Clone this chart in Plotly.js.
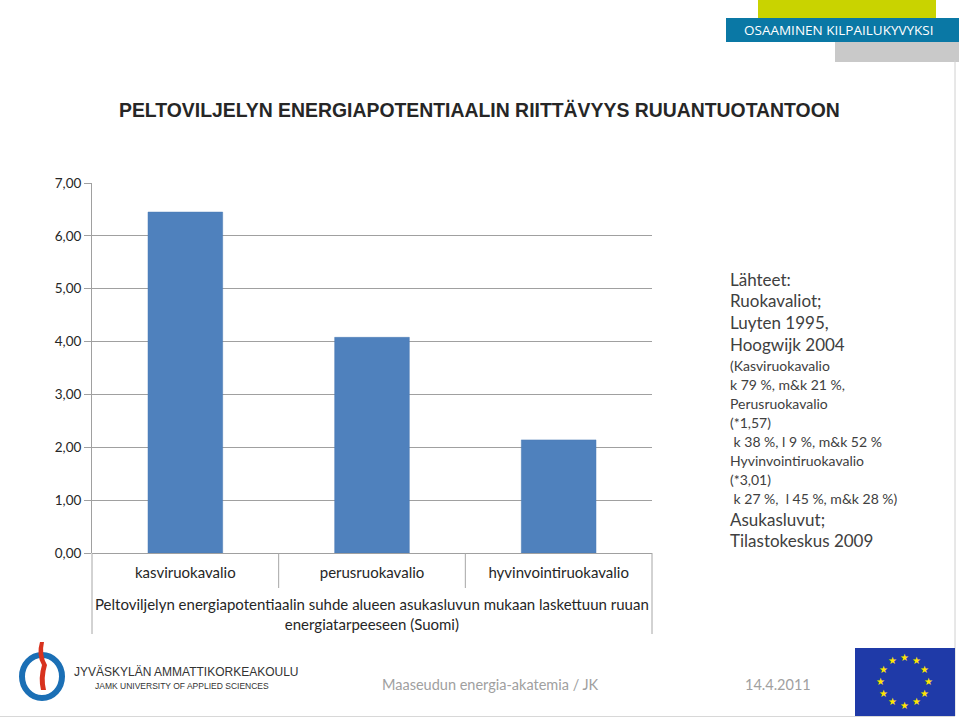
<!DOCTYPE html>
<html><head><meta charset="utf-8">
<script src="https://cdn.plot.ly/plotly-3.0.1.min.js"></script>
<style>html,body{margin:0;padding:0;background:#fff}#chart{width:959px;height:718px}</style>
</head><body><div id="chart"></div>
<script>
// ---- data ----
const categories = ['kasviruokavalio', 'perusruokavalio', 'hyvinvointiruokavalio'];
const values = [6.45, 4.08, 2.14];
const yTicks = [0, 1, 2, 3, 4, 5, 6, 7];
const chartTitle = 'PELTOVILJELYN ENERGIAPOTENTIAALIN RIITTÄVYYS RUUANTUOTANTOON';
const groupLabel = 'Peltoviljelyn energiapotentiaalin suhde alueen asukasluvun mukaan laskettuun ruuan<br>energiatarpeeseen (Suomi)';
const sourceLines = [
  ['Lähteet:', 'big'], ['Ruokavaliot;', 'big'], ['Luyten 1995,', 'big'], ['Hoogwijk 2004', 'big'],
  ['(Kasviruokavalio', 'small'], ['k 79 %, m&k 21 %,', 'small'], ['Perusruokavalio', 'small'],
  ['(*1,57)', 'small'], [' k 38 %, l 9 %, m&k 52 %', 'small'], ['Hyvinvointiruokavalio', 'small'],
  ['(*3,01)', 'small'], [' k 27 %,  l 45 %, m&k 28 %)', 'small'], ['Asukasluvut;', 'big'], ['Tilastokeskus 2009', 'big']
];
const footerText = 'Maaseudun energia-akatemia / JK';
const footerDate = '14.4.2011';
const bannerText = 'OSAAMINEN KILPAILUKYVYKSI';

// ---- layout helpers (pixel -> paper) ----
const W = 959, H = 718;
const px = x => x / W;
const py = y => 1 - y / H;
const FONT = 'Lato, "Open Sans", sans-serif';

const plotL = 92, plotR = 652, plotT = 183, plotB = 553;

const shapes = [];
const annotations = [];

// category separators
[0.5, 1.5].forEach(xv => shapes.push({type: 'line', xref: 'x', yref: 'paper', x0: xv, x1: xv, y0: py(plotB), y1: py(588), line: {color: '#a6a6a6', width: 1}}));
// left and right borders of category area
shapes.push({type: 'line', xref: 'paper', yref: 'paper', x0: px(plotL), x1: px(plotL), y0: py(plotB), y1: py(634), line: {color: '#a6a6a6', width: 1}});
shapes.push({type: 'line', xref: 'paper', yref: 'paper', x0: px(plotR), x1: px(plotR), y0: py(plotB), y1: py(634), line: {color: '#a6a6a6', width: 1}});

// group label
annotations.push({xref: 'paper', yref: 'paper', x: px((plotL + plotR) / 2), y: py(614), text: groupLabel, showarrow: false,
  font: {family: FONT, size: 15, color: '#262626'}, align: 'center', xanchor: 'center', yanchor: 'middle'});

// title
annotations.push({xref: 'paper', yref: 'paper', x: px(479), y: py(110), text: '<b>' + chartTitle + '</b>', showarrow: false,
  font: {family: '"Liberation Sans", Arial, sans-serif', size: 19.4, color: '#262626'}, xanchor: 'center', yanchor: 'middle'});

// source text
let yy = 279;
sourceLines.forEach((ln, i) => {
  const big = ln[1] === 'big';
  if (i > 0) {
    const prevBig = sourceLines[i - 1][1] === 'big';
    yy += (big && prevBig) ? 21.7 : (big || prevBig) ? 21 : 19;
  }
  annotations.push({xref: 'paper', yref: 'paper', x: px(728), y: py(yy), text: ln[0].replace(/ /g, '&nbsp;'), showarrow: false,
    font: {family: FONT, size: big ? 17 : 14, color: '#404040'}, xanchor: 'left', yanchor: 'middle'});
});

// footer
annotations.push({xref: 'paper', yref: 'paper', x: px(490), y: py(684), text: footerText, showarrow: false,
  font: {family: FONT, size: 14.5, color: '#a0a0a0'}, xanchor: 'center', yanchor: 'middle'});
annotations.push({xref: 'paper', yref: 'paper', x: px(778), y: py(684), text: footerDate, showarrow: false,
  font: {family: FONT, size: 14.5, color: '#a0a0a0'}, xanchor: 'center', yanchor: 'middle'});

// top banner
shapes.push({type: 'rect', xref: 'paper', yref: 'paper', x0: px(758), x1: px(936), y0: py(0), y1: py(19), fillcolor: '#c9d300', line: {width: 0}});
shapes.push({type: 'rect', xref: 'paper', yref: 'paper', x0: px(835), x1: px(959), y0: py(40), y1: py(62), fillcolor: '#c9c9c9', line: {width: 0}});
shapes.push({type: 'rect', xref: 'paper', yref: 'paper', x0: px(726), x1: px(959), y0: py(18), y1: py(42), fillcolor: '#0a78a5', line: {width: 0}});
annotations.push({xref: 'paper', yref: 'paper', x: px(838), y: py(30), text: bannerText, showarrow: false,
  font: {family: '"Open Sans", sans-serif', size: 13.5, color: '#ffffff'}, xanchor: 'center', yanchor: 'middle'});
// slide border
shapes.push({type: 'line', xref: 'paper', yref: 'paper', x0: px(955), x1: px(955), y0: py(60), y1: py(716), line: {color: '#d0d0d0', width: 1}});
shapes.push({type: 'line', xref: 'paper', yref: 'paper', x0: px(0), x1: px(955), y0: py(716.5), y1: py(716.5), line: {color: '#d8d8d8', width: 1}});

// EU flag
shapes.push({type: 'rect', xref: 'paper', yref: 'paper', x0: px(855), x1: px(955), y0: py(648), y1: py(716), fillcolor: '#1f3aa8', line: {width: 0}});
for (let k = 0; k < 12; k++) {
  const a = k * Math.PI / 6;
  annotations.push({xref: 'paper', yref: 'paper', x: px(904 + 24 * Math.sin(a)), y: py(681 - 24 * Math.cos(a)), text: '★', showarrow: false,
    font: {family: '"DejaVu Sans"', size: 10, color: '#ffe600'}, xanchor: 'center', yanchor: 'middle'});
}

// JAMK logo
shapes.push({type: 'circle', xref: 'paper', yref: 'paper', x0: px(22), x1: px(62), y0: py(655), y1: py(698), fillcolor: 'rgba(0,0,0,0)', line: {color: '#1b6fb5', width: 6}});
shapes.push({type: 'path', xref: 'paper', yref: 'paper',
  path: `M ${px(40)},${py(642)} Q ${px(36)},${py(655)} ${px(42)},${py(665)} Q ${px(38)},${py(678)} ${px(41)},${py(690)} L ${px(46)},${py(690)} Q ${px(43)},${py(678)} ${px(47)},${py(665)} Q ${px(41)},${py(655)} ${px(44)},${py(642)} Z`,
  fillcolor: '#d8321e', line: {width: 0}});
annotations.push({xref: 'paper', yref: 'paper', x: px(72), y: py(672), text: 'JYVÄSKYLÄN AMMATTIKORKEAKOULU', showarrow: false,
  font: {family: '"Liberation Sans", sans-serif', size: 12, color: '#333333'}, xanchor: 'left', yanchor: 'middle'});
annotations.push({xref: 'paper', yref: 'paper', x: px(93), y: py(686), text: 'JAMK UNIVERSITY OF APPLIED SCIENCES', showarrow: false,
  font: {family: '"Liberation Sans", sans-serif', size: 8.5, color: '#333333'}, xanchor: 'left', yanchor: 'middle'});

const data = [{
  type: 'bar', x: categories, y: values,
  marker: {color: '#4f81bd', line: {color: '#4a7ab4', width: 0.5}},
  hoverinfo: 'x+y'
}];

const layout = {
  width: W, height: H,
  margin: {l: 0, r: 0, t: 0, b: 0},
  paper_bgcolor: '#ffffff', plot_bgcolor: '#ffffff',
  separators: ', ',
  showlegend: false,
  bargap: 0.6,
  xaxis: {
    domain: [px(plotL), px(plotR)],
    anchor: 'y',
    showgrid: false, zeroline: false, showline: false,
    ticks: '', ticklabelstandoff: 9,
    tickfont: {family: FONT, size: 15, color: '#262626'},
    range: [-0.5, 2.5], fixedrange: true
  },
  yaxis: {
    domain: [py(plotB), py(plotT)],
    range: [0, 7],
    tickvals: yTicks, tickformat: '.2f',
    ticks: 'outside', ticklen: 7, tickcolor: '#a0a0a0',
    showline: true, linecolor: '#a0a0a0', linewidth: 1,
    showgrid: true, gridcolor: '#a0a0a0', gridwidth: 1,
    zeroline: true, zerolinecolor: '#a0a0a0', zerolinewidth: 1,
    tickfont: {family: FONT, size: 13.5, color: '#262626'},
    fixedrange: true
  },
  shapes: shapes,
  annotations: annotations
};

Plotly.newPlot('chart', data, layout, {displayModeBar: false, staticPlot: true});
</script>
</body></html>
